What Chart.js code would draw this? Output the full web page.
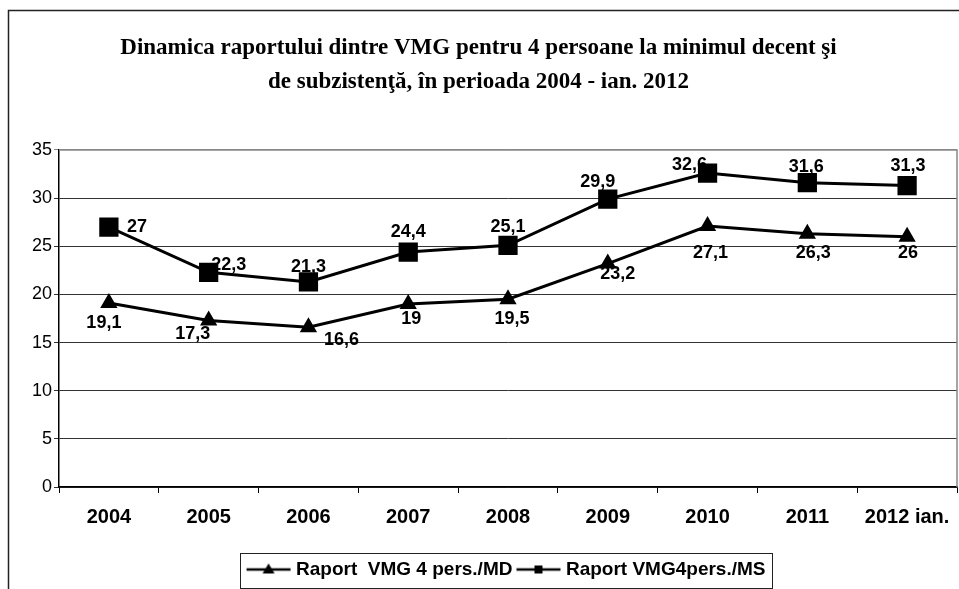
<!DOCTYPE html>
<html>
<head>
<meta charset="utf-8">
<script src="https://cdn.jsdelivr.net/npm/chart.js@4.4.1/dist/chart.umd.min.js"></script>
<style>
  html, body { margin: 0; padding: 0; background: #fff; }
  #wrap { width: 959px; height: 589px; }
</style>
</head>
<body>
<div id="wrap"><canvas id="chart" width="959" height="589"></canvas></div>
<script>
// ----------------------------------------------------------------------
const years = ["2004","2005","2006","2007","2008","2009","2010","2011","2012 ian."]
const raportMD = [19.1, 17.3, 16.6, 19, 19.5, 23.2, 27.1, 26.3, 26]
const raportMS = [27, 22.3, 21.3, 24.4, 25.1, 29.9, 32.6, 31.6, 31.3]
const yTicks = [0, 5, 10, 15, 20, 25, 30, 35]
const seriesNames = ["Raport  VMG 4 pers./MD", "Raport VMG4pers./MS"]

// label placement relative to each point (dx, dy)
const labelShift = [
    [[-5,20],[-16,14],[33,13],[3,15],[4,20],[10,10],[3,27],[6,19],[1,16]],
    [[28,0],[20,-7],[0,-15],[0,-20],[0,-18],[-10,-17],[-18,-8],[-1,-16],[1,-20]]
]

const sans = "'Liberation Sans', Arial, sans-serif"

// ----------------------------------------------------------------------
function legendIcon (style)
{
    const c = document.createElement("canvas")
    c.width = 46
    c.height = 16
    const g = c.getContext("2d")
    g.strokeStyle = "#000"
    g.lineWidth = 2.5
    g.beginPath()
    g.moveTo(1, 8)
    g.lineTo(45, 8)
    g.stroke()
    g.fillStyle = "#000"
    if (style === "triangle") {
        g.beginPath()
        g.moveTo(23, 2)
        g.lineTo(29, 12)
        g.lineTo(17, 12)
        g.closePath()
        g.fill()
    } else {
        g.fillRect(19, 4, 8, 8)
    }
    return c
}

const frame = {
    id: "frame",
    beforeDraw (chart) {
        const ctx = chart.ctx
        ctx.save()
        ctx.strokeStyle = "#222"
        ctx.lineWidth = 1.5
        ctx.beginPath()
        ctx.moveTo(8.5, 600)
        ctx.lineTo(8.5, 10.5)
        ctx.lineTo(959, 10.5)
        ctx.stroke()
        ctx.restore()
    },
    afterDraw (chart) {
        const ctx = chart.ctx
        const a = chart.chartArea
        const lg = chart.legend
        ctx.save()
        ctx.strokeStyle = "#888"
        ctx.lineWidth = 1.5
        ctx.beginPath()
        ctx.moveTo(a.left, a.top)
        ctx.lineTo(a.right, a.top)
        ctx.lineTo(a.right, a.bottom)
        ctx.stroke()
        // legend box round the items only (icons overhang their box by 5px)
        const boxes = lg.legendHitBoxes
        let l = Infinity, r = -Infinity
        boxes.forEach(b => { l = Math.min(l, b.left); r = Math.max(r, b.left + b.width) })
        l -= 11
        r += 6
        ctx.strokeStyle = "#222"
        ctx.lineWidth = 1
        ctx.strokeRect(Math.round(l) + 0.5, Math.round(lg.top + 1) + 0.5,
                       Math.round(r - l), Math.round(lg.height - 2))
        ctx.restore()
    }
}

const valueLabels = {
    id: "valueLabels",
    afterDatasetsDraw (chart) {
        const ctx = chart.ctx
        ctx.save()
        ctx.font = "bold 18px " + sans
        ctx.fillStyle = "#000"
        ctx.textAlign = "center"
        ctx.textBaseline = "middle"
        chart.data.datasets.forEach((ds, i) => {
            chart.getDatasetMeta(i).data.forEach((pt, j) => {
                const s = labelShift[i][j]
                const txt = String(ds.data[j]).replace(".", ",")
                ctx.fillText(txt, pt.x + s[0], pt.y + s[1])
            })
        })
        ctx.restore()
    }
}

// ----------------------------------------------------------------------
const config = {
    type: "line",
    data: {
        labels: years,
        datasets: [
            {
            label: seriesNames[0],
            data: raportMD,
            borderColor: "#000",
            backgroundColor: "#000",
            borderWidth: 3,
            pointStyle: "triangle",
            pointRadius: 7,
            pointHoverRadius: 7,
            tension: 0
            },
            {
            label: seriesNames[1],
            data: raportMS,
            borderColor: "#000",
            backgroundColor: "#000",
            borderWidth: 3,
            pointStyle: "rect",
            pointRadius: 11.5,
            pointHoverRadius: 11.5,
            tension: 0
            }
        ]
    },
    options: {
        responsive: false,
        animation: false,
        layout: { autoPadding: false, padding: { left: 0, right: 2, top: 0, bottom: 0 } },
        plugins: {
            tooltip: { enabled: false },
            title: {
                display: true,
                text: ["Dinamica raportului dintre VMG pentru 4 persoane la minimul decent şi",
                       "de subzistenţă, în perioada 2004 - ian. 2012"],
                color: "#000",
                font: { family: "'Liberation Serif', 'Times New Roman', serif", size: 23, weight: "bold", lineHeight: 1.478 },
                padding: { top: 31, bottom: 51 }
            },
            legend: {
                position: "bottom",
                fullSize: false,
                labels: {
                    color: "#000",
                    font: { family: sans, size: 19, weight: "bold" },
                    usePointStyle: true,
                    pointStyleWidth: 36,
                    boxHeight: 16,
                    padding: 8,
                    generateLabels (chart) {
                        return chart.data.datasets.map((ds, i) => ({
                            text: ds.label,
                            fillStyle: "#000",
                            strokeStyle: "#000",
                            lineWidth: 0,
                            pointStyle: legendIcon(i === 0 ? "triangle" : "rect"),
                            datasetIndex: i,
                            fontColor: "#000"
                        }))
                    }
                }
            }
        },
        scales: {
            x: {
                offset: true,
                grid: { drawOnChartArea: false, offset: true, color: "#000", tickLength: 6 },
                border: { color: "#000", width: 1.5 },
                ticks: {
                    color: "#000",
                    padding: 12,
                    font: { family: sans, size: 20, weight: "bold" }
                },
                afterFit (scale) {
                    scale.height = 65
                    scale.paddingLeft = 0
                    scale.paddingRight = 0
                }
            },
            y: {
                min: 0,
                max: 35,
                afterBuildTicks (scale) { scale.ticks = yTicks.map(v => ({ value: v })) },
                grid: {
                    color: (c) => c.tick && c.tick.value === 35 ? "#888" : "#333",
                    tickLength: 5,
                    lineWidth: 1
                },
                border: { color: "#000", width: 1.5 },
                ticks: {
                    color: "#000",
                    padding: 2,
                    font: { family: sans, size: 18 }
                },
                afterFit (scale) {
                    scale.width = 59
                    scale.paddingTop = 0
                    scale.paddingBottom = 0
                }
            }
        }
    },
    plugins: [frame, valueLabels]
}

const chart = new Chart(document.getElementById("chart"), config)
</script>
</body>
</html>
